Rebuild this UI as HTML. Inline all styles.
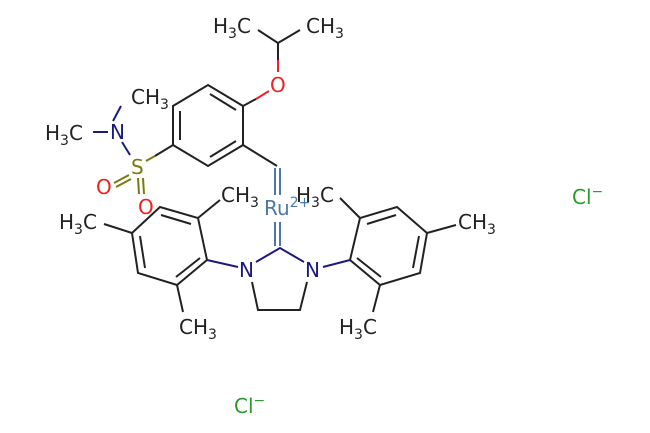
<!DOCTYPE html>
<html><head><meta charset="utf-8"><style>
html,body{margin:0;padding:0;background:#fff;}
svg{display:block}
text{font-family:"DejaVu Sans","Liberation Sans",sans-serif;font-size:20px;}
.s{font-size:14px}
</style></head><body>
<svg width="650" height="433" viewBox="0 0 650 433" xmlns="http://www.w3.org/2000/svg">
<g stroke="#222" stroke-width="2" fill="none">
<path d="M208,85 L243,106 L243,145 L208,166 L173,145 L173,106 Z"/>
<path d="M210,94 L236,110 M236,141 L210,157 M180,140 L180,111"/>
<path d="M278,72 L278,43 L258,30 M278,43 L300,30"/>
<path d="M243,145 L277,166"/>
<path d="M173,145 L155,156"/>
<!-- left mesityl -->
<path d="M207,260 L198,218 L160,207 L132,233 L138,273 L177,285 Z"/>
<path d="M191,224 L161,215 M140,236 L145,268 M176,277 L200,258"/>
<path d="M198,218 L220,200 M132,233 L104,224 M177,285 L183,312"/>
<!-- right mesityl -->
<path d="M350,260 L360,218 L397,207 L427,233 L420,273 L380,285 Z"/>
<path d="M367,224 L396,215 M419,236 L413,268 M381,277 L357,258"/>
<path d="M360,218 L340,198 M427,233 L456,225 M380,285 L373,312"/>
<path d="M252,282 L258,310 L300,310 L307,282"/>
<path d="M243,106 L256,99"/>
</g>
<g stroke="#e22" stroke-width="2" fill="none">
<path d="M256,99 L269,91"/>
<path d="M278,72 L278,60"/>
</g>
<g stroke="#1a1a80" stroke-width="2" fill="none">
<path d="M207,260 L238,267"/>
<path d="M256,262 L280,248 L304,262"/>
<path d="M323,267 L350,260"/>
<path d="M113,121 L121,106"/>
<path d="M93,132 L108,132"/>
<path d="M122,142 L130,155"/>
</g>
<g stroke="#7a7a10" stroke-width="2" fill="none">
<path d="M146,161 L155,156"/>
<path d="M114,183 L129,175 M116,187 L131,179"/>
<path d="M138,178 L139,194 M143,178 L144,194"/>
</g>
<g stroke="#4a78a8" stroke-width="2" fill="none">
<path d="M275,168 L275,195 M280,168 L280,195"/>
<path d="M275,222 L275,246 M280,222 L280,246"/>
</g>
<g fill="#222">
<text x="213" y="33">H<tspan class="s" dy="5">3</tspan><tspan dy="-5">C</tspan></text>
<text x="306" y="33">CH<tspan class="s" dy="5">3</tspan></text>
<text x="131" y="104">CH<tspan class="s" dy="5">3</tspan></text>
<text x="45" y="140">H<tspan class="s" dy="5">3</tspan><tspan dy="-5">C</tspan></text>
<text x="221" y="202">CH<tspan class="s" dy="5">3</tspan></text>
<text x="59" y="229">H<tspan class="s" dy="5">3</tspan><tspan dy="-5">C</tspan></text>
<text x="179" y="334">CH<tspan class="s" dy="5">3</tspan></text>
<text x="296" y="202">H<tspan class="s" dy="5">3</tspan><tspan dy="-5">C</tspan></text>
<text x="458" y="229">CH<tspan class="s" dy="5">3</tspan></text>
<text x="339" y="334">H<tspan class="s" dy="5">3</tspan><tspan dy="-5">C</tspan></text>
</g>
<text x="270" y="92" fill="#e22">O</text>
<text x="96" y="194" fill="#e22">O</text>
<text x="138" y="214" fill="#e22">O</text>
<text x="110" y="139" fill="#1a1a80">N</text>
<text x="131" y="174" fill="#7a7a10">S</text>
<text x="239" y="277" fill="#1a1a80">N</text>
<text x="305" y="277" fill="#1a1a80">N</text>
<text x="264" y="215" fill="#4a78a8">Ru<tspan class="s" dy="-8">2+</tspan></text>
<text x="572" y="204" fill="#2a9a2a">Cl<tspan class="s" dy="-8">−</tspan></text>
<text x="234" y="413" fill="#2a9a2a">Cl<tspan class="s" dy="-8">−</tspan></text>
</svg>
</body></html>
